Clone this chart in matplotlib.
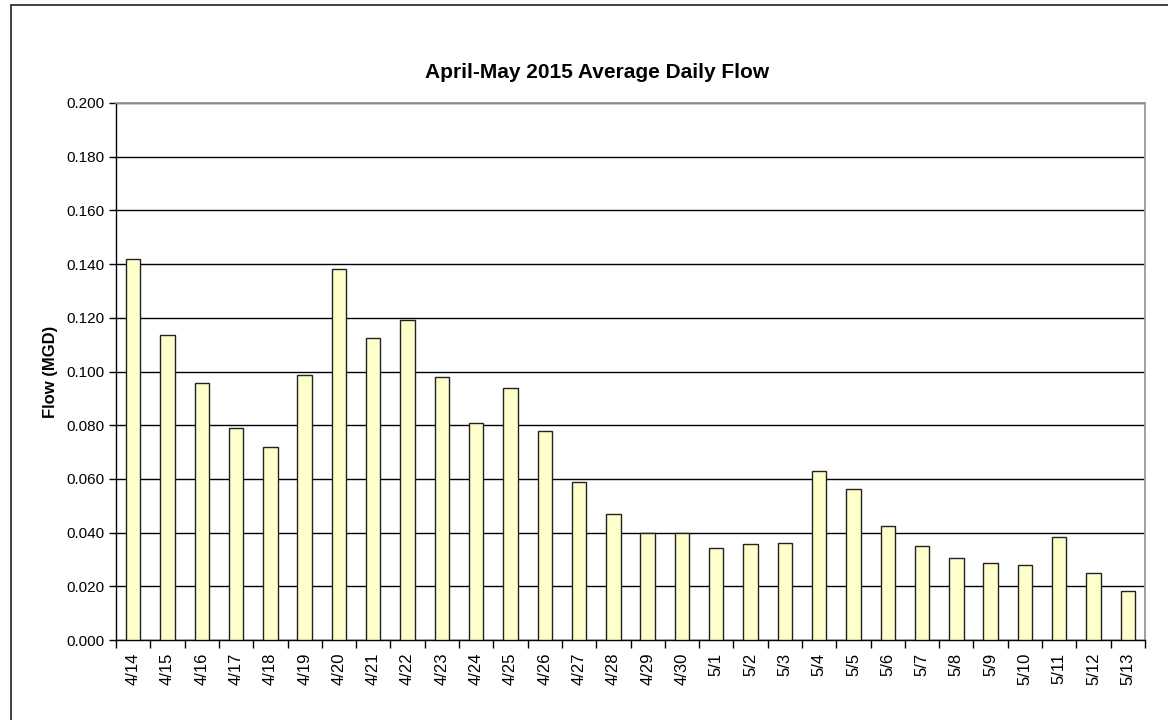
import matplotlib
matplotlib.use("Agg")
import matplotlib.pyplot as plt
from matplotlib.patches import Rectangle
import numpy as np

plt.rcParams['font.family'] = ['Liberation Sans', 'DejaVu Sans']

dates = ["4/14", "4/15", "4/16", "4/17", "4/18", "4/19", "4/20", "4/21", "4/22", "4/23",
         "4/24", "4/25", "4/26", "4/27", "4/28", "4/29", "4/30", "5/1", "5/2", "5/3",
         "5/4", "5/5", "5/6", "5/7", "5/8", "5/9", "5/10", "5/11", "5/12", "5/13"]
flow = [0.142, 0.1135, 0.0957, 0.079, 0.0717, 0.0988, 0.138, 0.1125, 0.119, 0.098,
        0.081, 0.094, 0.078, 0.0589, 0.047, 0.040, 0.040, 0.0344, 0.0358, 0.036,
        0.063, 0.0562, 0.0425, 0.035, 0.0307, 0.0288, 0.0278, 0.0384, 0.025, 0.0182]
yticks = [0.0, 0.02, 0.04, 0.06, 0.08, 0.10, 0.12, 0.14, 0.16, 0.18, 0.20]

fig = plt.figure(figsize=(11.68, 7.2), dpi=100)
W, H = 1168, 720
# outer frame
fig.patches.append(Rectangle((11 / W, -0.1), 1.2, 1 - 5 / H + 0.1, transform=fig.transFigure,
                             fill=False, edgecolor='#333333', linewidth=1.3))

ax = fig.add_axes([116 / W, 1 - 640 / H, (1145 - 116) / W, (640 - 103) / H])
x = np.arange(len(dates))
ax.bar(x, flow, width=0.42, color='#ffffcc', edgecolor='#222222', linewidth=1.0, zorder=3)

ax.set_xlim(-0.5, len(dates) - 0.5)
ax.set_ylim(0, 0.2)
ax.set_yticks(yticks)
ax.set_yticklabels([f"{v:.3f}" for v in yticks], fontsize=11)
ax.yaxis.grid(True, color='black', linewidth=1.0, zorder=0)
ax.set_axisbelow(True)

ax.set_xticks(x)
ax.set_xticklabels(dates, rotation=90, fontsize=12)
ax.set_xticks(np.arange(-0.5, len(dates), 1.0), minor=True)
ax.tick_params(axis='x', which='major', length=0, pad=9)
ax.tick_params(axis='x', which='minor', length=6, width=1, color='black', direction='out')
ax.tick_params(axis='y', length=5, width=1, color='black', direction='out', pad=3)

for s in ['left', 'bottom']:
    ax.spines[s].set_color('black')
    ax.spines[s].set_linewidth(1.0)
for s in ['top', 'right']:
    ax.spines[s].set_color('#999999')
    ax.spines[s].set_linewidth(1.3)

ax.set_ylabel("Flow (MGD)", fontsize=12, fontweight='bold', labelpad=6)
fig.text(597 / W, 1 - 72 / H, "April-May 2015 Average Daily Flow",
         ha='center', va='center', fontsize=15, fontweight='bold')

fig.savefig("out.png", dpi=100)
